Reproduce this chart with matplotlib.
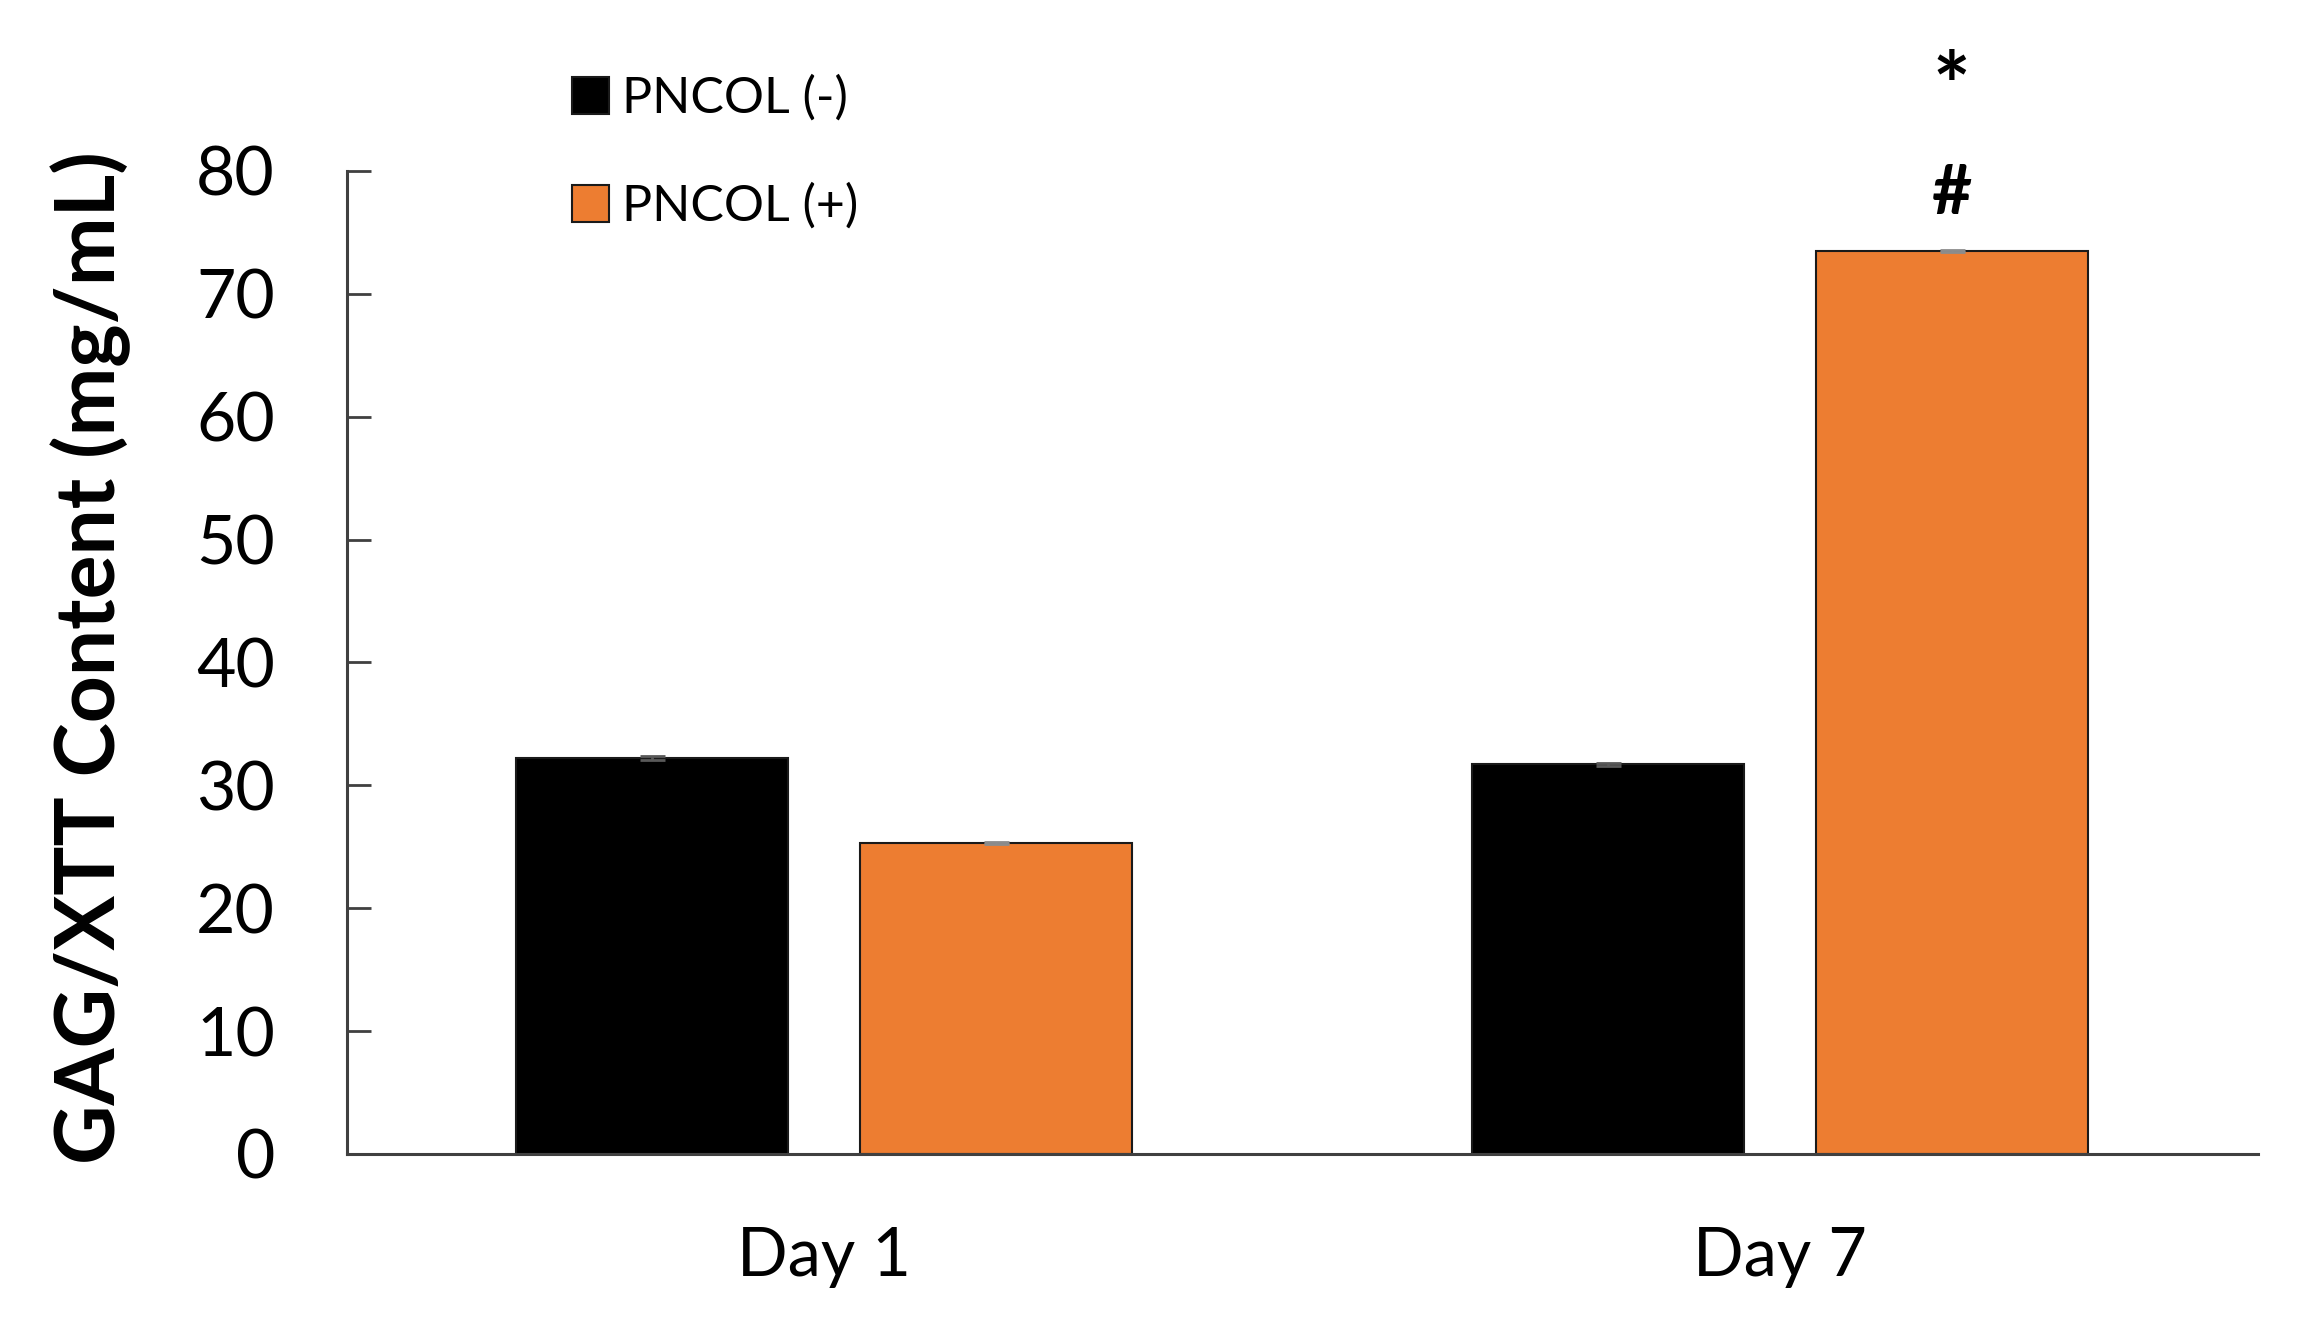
import matplotlib
matplotlib.use("Agg")
import matplotlib.pyplot as plt
import numpy as np

days = ["Day 1", "Day 7"]
series = ["PNCOL (-)", "PNCOL (+)"]
pncol_neg = [32.2, 31.7]
pncol_pos = [25.3, 73.5]
err_neg = [0.15, 0.15]
err_pos = [0.1, 0.1]
colors = ["#000000", "#ED7D31"]
y_ticks = [0, 10, 20, 30, 40, 50, 60, 70, 80]

plt.rcParams['font.family'] = ['Lato', 'DejaVu Sans']

fig = plt.figure(figsize=(22.99, 13.20), dpi=100)
ax = fig.add_axes([0.151, 0.1258, 0.831, 0.7447])

x = np.arange(len(days))
w = 0.2845
off = 0.18
b1 = ax.bar(x - off, pncol_neg, w, color=colors[0], edgecolor="#1a1a1a", linewidth=1.5, label=series[0], zorder=2)
b2 = ax.bar(x + off, pncol_pos, w, color=colors[1], edgecolor="#1a1a1a", linewidth=1.5, label=series[1], zorder=2)
ax.errorbar(x - off, pncol_neg, yerr=err_neg, fmt="none", ecolor="#595959", capsize=9, elinewidth=2, capthick=2, zorder=3)
ax.errorbar(x + off, pncol_pos, yerr=err_pos, fmt="none", ecolor="#8c8c8c", capsize=9, elinewidth=2, capthick=2, zorder=3)

ax.set_xlim(-0.499, 1.5)
ax.set_ylim(0, 80)
ax.set_yticks(y_ticks)
ax.set_xticks(x)
ax.set_xticklabels(days)

for s in ["top", "right"]:
    ax.spines[s].set_visible(False)
for s in ["left", "bottom"]:
    ax.spines[s].set_linewidth(2.2)
    ax.spines[s].set_color("#404040")

ax.tick_params(axis="y", direction="in", length=17, width=2, color="#404040",
               labelsize=49, pad=52)
ax.tick_params(axis="x", length=0, labelsize=48, pad=52)

ax.set_ylabel("GAG/XTT Content (mg/mL)", fontsize=59, fontweight="bold")
ax.yaxis.set_label_coords(-0.113, 0.505)

# significance markers above Day 7 PNCOL (+)
ax.text(x[1] + off, pncol_pos[1] + 2.0, "#", ha="center", va="bottom", fontsize=50, fontweight="bold")
ax.text(x[1] + off, pncol_pos[1] + 9.6, "*", ha="center", va="bottom", fontsize=64, fontweight="bold")

leg = fig.legend(handles=[b1, b2], labels=series, loc="upper left",
                 bbox_to_anchor=(0.24, 0.958), frameon=False, fontsize=36,
                 handlelength=0.75, handleheight=0.75, handletextpad=0.25,
                 labelspacing=1.22, borderaxespad=0)

fig.savefig("out.png", dpi=100)
